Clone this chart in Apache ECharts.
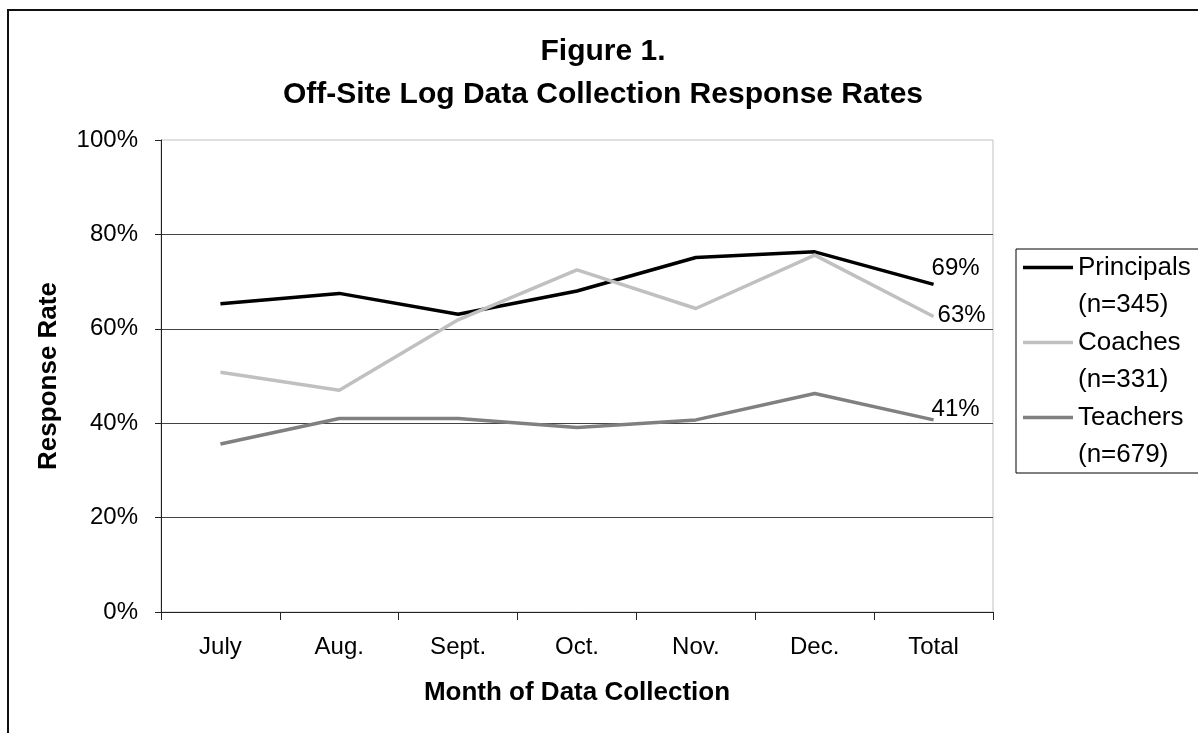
<!DOCTYPE html>
<html>
<head>
<meta charset="utf-8">
<title>Figure 1</title>
<script src="https://cdn.jsdelivr.net/npm/echarts/dist/echarts.min.js"></script>
<style>
  html, body { margin: 0; padding: 0; background: #fff; }
  #chart { width: 1198px; height: 733px; }
</style>
</head>
<body>
<div id="chart"></div>
<script>
// data
const months = ["July", "Aug.", "Sept.", "Oct.", "Nov.", "Dec.", "Total"];
const principals = [65.3, 67.5, 63.1, 68.0, 75.1, 76.3, 69.4];
const coaches = [50.8, 47.0, 61.9, 72.5, 64.3, 75.6, 62.6];
const teachers = [35.6, 41.0, 41.0, 39.1, 40.7, 46.3, 40.7];
const groupNames = ["Principals", "Coaches", "Teachers"];
const groupCounts = [345, 331, 679];
const yTicks = [0, 20, 40, 60, 80, 100];

const fontFamily = "Liberation Sans, Arial, sans-serif";

function makeLine(name, data, color, labelOffset) {
  return {
    name: name,
    type: "line",
    data: data,
    symbol: "none",
    color: color,
    lineStyle: { color: color, width: 3.5 },
    endLabel: {
      show: true,
      formatter: p => Math.round(p.value) + "%",
      fontFamily: fontFamily,
      fontSize: 24,
      color: "#000",
      distance: 0,
      offset: labelOffset
    }
  };
}

const chart = echarts.init(document.getElementById("chart"));
chart.setOption({
  animation: false,
  backgroundColor: "#fff",
  textStyle: { fontFamily: fontFamily },
  title: {
    text: "Figure 1.\nOff-Site Log Data Collection Response Rates",
    left: 603,
    top: 30,
    padding: 0,
    textAlign: "center",
    textStyle: {
      fontFamily: fontFamily,
      fontSize: 30,
      fontWeight: "bold",
      lineHeight: 43,
      color: "#000"
    }
  },
  // outer frame of the figure (only top and left edges are inside the picture)
  graphic: [{
    type: "rect",
    shape: { x: 8, y: 10, width: 1400, height: 1000 },
    style: { fill: "none", stroke: "#111", lineWidth: 2 },
    silent: true
  }],
  legend: {
    orient: "vertical",
    left: 1016,
    top: 249,
    padding: [0, 40, 0, 7],
    borderColor: "#000",
    borderWidth: 1,
    itemWidth: 50,
    itemHeight: 74,
    itemGap: 1,
    itemTextGap: 5,
    symbolKeepAspect: false,
    icon: "path://M0,16.75H50V20.25H0Z M0,0H0.01V0.01H0Z M49.99,73.99H50V74H49.99Z",
    itemStyle: { borderWidth: 0 },
    data: groupNames,
    formatter: name => name + "\n(n=" + groupCounts[groupNames.indexOf(name)] + ")",
    textStyle: {
      fontFamily: fontFamily,
      fontSize: 26,
      lineHeight: 37,
      color: "#000"
    }
  },
  grid: {
    left: 161,
    right: 205,
    top: 140,
    bottom: 121,
    show: true,
    borderColor: "#c0c0c0",
    borderWidth: 1
  },
  xAxis: {
    type: "category",
    data: months,
    boundaryGap: true,
    name: "Month of Data Collection",
    nameLocation: "middle",
    nameGap: 68,
    nameTextStyle: { fontFamily: fontFamily, fontSize: 26, fontWeight: "bold", color: "#000" },
    axisLine: { lineStyle: { color: "#222", width: 1 } },
    axisTick: { show: true, length: 8, lineStyle: { color: "#222" } },
    axisLabel: { fontSize: 24, color: "#000", margin: 23 }
  },
  yAxis: {
    type: "value",
    min: yTicks[0],
    max: yTicks[yTicks.length - 1],
    interval: 20,
    name: "Response Rate",
    nameLocation: "middle",
    nameGap: 99,
    nameTextStyle: { fontFamily: fontFamily, fontSize: 26, fontWeight: "bold", color: "#000" },
    axisLine: { show: true, lineStyle: { color: "#222", width: 1 } },
    axisTick: { show: true, length: 6, lineStyle: { color: "#222" } },
    axisLabel: { fontSize: 24, color: "#000", margin: 23, formatter: "{value}%" },
    splitLine: { show: true, showMaxLine: false, lineStyle: { color: "#444", width: 1 } }
  },
  series: [
    makeLine(groupNames[0], principals, "#000000", [-2, -16]),
    makeLine(groupNames[1], coaches, "#c0c0c0", [4, -1]),
    makeLine(groupNames[2], teachers, "#808080", [-2, -11])
  ]
});
</script>
</body>
</html>
